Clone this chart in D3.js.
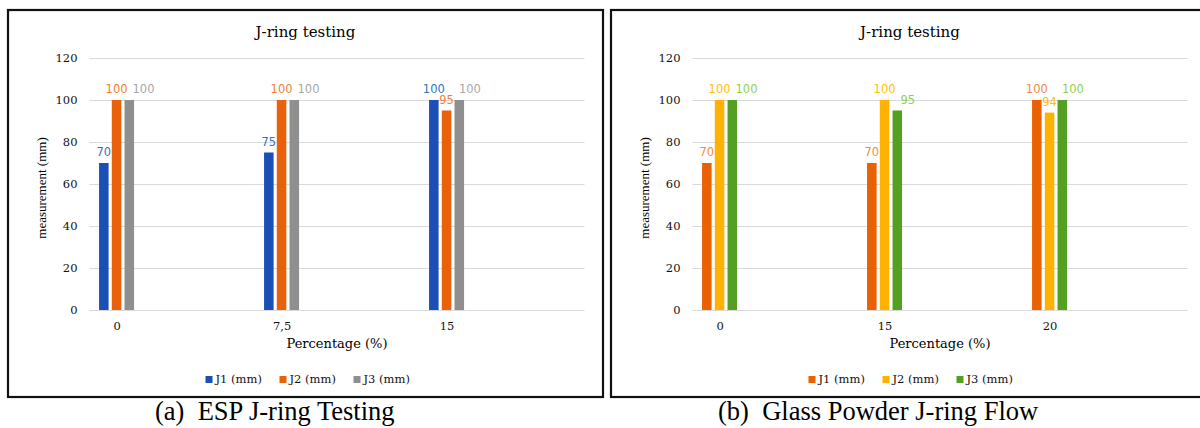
<!DOCTYPE html>
<html>
<head>
<meta charset="utf-8">
<script src="https://cdn.jsdelivr.net/npm/d3@7"></script>
<style>
  body { margin: 0; background: #fff; }
  text { white-space: pre; }
</style>
</head>
<body>
<div id="chart"></div>
<script>
// Data
const seriesNames = ["J1 (mm)", "J2 (mm)", "J3 (mm)"];
const yTicks = [0, 20, 40, 60, 80, 100, 120];

// (a) ESP
const espCats = ["0", "7,5", "15"];
const espJ1 = [70, 75, 100];
const espJ2 = [100, 100, 95];
const espJ3 = [100, 100, 100];

// (b) Glass powder
const glassCats = ["0", "15", "20"];
const glassJ1 = [70, 70, 100];
const glassJ2 = [100, 100, 94];
const glassJ3 = [100, 95, 100];

// Chart constants
const w = 1200;
const h = 428;
const serif = "'DejaVu Serif', serif";
const sans = "'DejaVu Sans', sans-serif";

const svg = d3.select("#chart")
              .append("svg")
              .attr("width", w)
              .attr("height", h);

svg.append("rect").attr("width", w).attr("height", h).attr("fill", "#fff");

const panels = [
  {
    cats: espCats, values: [espJ1, espJ2, espJ3],
    colors: ["#1c4fb5", "#e9610b", "#8f8f8f"],
    labelColors: ["#2e74c0", "#f07f35", "#a8a8a8"],
    left: 8, right: 603, captionX: 155,
    caption: "(a)  ESP J-ring Testing"
  },
  {
    cats: glassCats, values: [glassJ1, glassJ2, glassJ3],
    colors: ["#e96100", "#ffb200", "#55a023"],
    labelColors: ["#f28a45", "#ffc000", "#8fd14f"],
    left: 611, right: 1209, captionX: 718,
    caption: "(b)  Glass Powder J-ring Flow"
  }
];

panels.forEach(drawPanel);

function drawPanel(p) {
  const g = svg.append("g");
  const plotL = p.left + 81.5;
  const plotW = 495;
  const mid = (p.left + p.right) / 2;

  // frame
  g.append("rect")
   .attr("x", p.left)
   .attr("y", 10)
   .attr("width", p.right - p.left)
   .attr("height", 387)
   .attr("fill", "none")
   .attr("stroke", "#111")
   .attr("stroke-width", 2.2);

  // scales
  const y = d3.scaleLinear().domain([0, 120]).range([310, 58]);
  const x0 = d3.scaleBand().domain(p.cats).range([plotL, plotL + plotW]);
  const x1 = d3.scaleBand().domain(seriesNames).range([-17.5, 17.5]).paddingInner(0.25);
  // Excel leaves room for empty series, so the cluster sits near the band start
  const center = c => x0(c) + x0.bandwidth() * 0.164;

  // y axis + gridlines
  const yAxis = g.append("g")
     .attr("transform", "translate(" + plotL + ",0)")
     .call(d3.axisLeft(y).tickValues(yTicks).tickSize(-plotW).tickPadding(12));
  yAxis.select(".domain").remove();
  yAxis.selectAll("line").attr("stroke", "#d9d9d9").attr("stroke-width", 1.2);
  yAxis.selectAll("text")
       .style("font-family", serif)
       .style("font-size", "11.5px")
       .attr("fill", "#111");

  // x axis
  const xPos = d3.scaleOrdinal().domain(p.cats).range(p.cats.map(center));
  const xAxis = g.append("g")
     .attr("transform", "translate(0,310)")
     .call(d3.axisBottom(xPos).tickSize(0).tickPadding(12));
  xAxis.select(".domain").remove();
  xAxis.selectAll("text")
       .style("font-family", serif)
       .style("font-size", "11.5px")
       .attr("fill", "#111");

  // bars
  seriesNames.forEach((name, si) => {
    g.selectAll(null)
     .data(p.cats)
     .enter()
     .append("rect")
     .attr("x", c => center(c) + x1(name))
     .attr("y", (c, ci) => y(p.values[si][ci]))
     .attr("width", x1.bandwidth())
     .attr("height", (c, ci) => y(0) - y(p.values[si][ci]))
     .attr("fill", p.colors[si]);
  });

  // data labels, the last series is pushed right of its neighbour like Excel does
  p.cats.forEach((c, ci) => {
    let prevBox = null;
    seriesNames.forEach((name, si) => {
      const v = p.values[si][ci];
      const cx = center(c) + x1(name) + x1.bandwidth() / 2;
      const t = g.append("text")
                 .text(v)
                 .attr("x", cx)
                 .attr("y", y(v) - 7)
                 .attr("text-anchor", "middle")
                 .style("font-family", sans)
                 .style("font-size", "11.5px")
                 .attr("fill", p.labelColors[si]);
      const tw = t.node().getComputedTextLength();
      let box = [cx - tw / 2, cx + tw / 2];
      if (si === seriesNames.length - 1 && prevBox && box[0] < prevBox[1] + 4) {
        t.attr("text-anchor", "start").attr("x", prevBox[1] + 5);
        box = [prevBox[1] + 5, prevBox[1] + 5 + tw];
      }
      prevBox = box;
    });
  });

  // title
  g.append("text")
   .text("J-ring testing")
   .attr("x", mid)
   .attr("y", 37)
   .attr("text-anchor", "middle")
   .style("font-family", serif)
   .style("font-size", "15px")
   .attr("fill", "#000");

  // axis labels
  g.append("text")
   .text("measurement (mm)")
   .attr("transform", "translate(" + (p.left + 38) + ",188) rotate(-90)")
   .attr("text-anchor", "middle")
   .style("font-family", "'Liberation Serif', serif")
   .style("font-size", "13px")
   .attr("fill", "#000");

  g.append("text")
   .text("Percentage (%)")
   .attr("x", plotL + plotW / 2)
   .attr("y", 348)
   .attr("text-anchor", "middle")
   .style("font-family", serif)
   .style("font-size", "13px")
   .attr("fill", "#000");

  // legend
  const legend = g.append("g");
  seriesNames.forEach((name, si) => {
    const lx = plotL + 116 + si * 74;
    legend.append("rect")
          .attr("x", lx)
          .attr("y", 376)
          .attr("width", 7)
          .attr("height", 7)
          .attr("fill", p.colors[si]);
    legend.append("text")
          .text(name)
          .attr("x", lx + 10)
          .attr("y", 383)
          .style("font-family", serif)
          .style("font-size", "11.5px")
          .attr("fill", "#111");
  });

  // caption under the frame
  g.append("text")
   .text(p.caption)
   .attr("x", p.captionX)
   .attr("y", 420)
   .style("font-family", "'Liberation Serif', 'Times New Roman', serif")
   .style("font-size", "26.5px")
   .attr("fill", "#000");
}
</script>
</body>
</html>
